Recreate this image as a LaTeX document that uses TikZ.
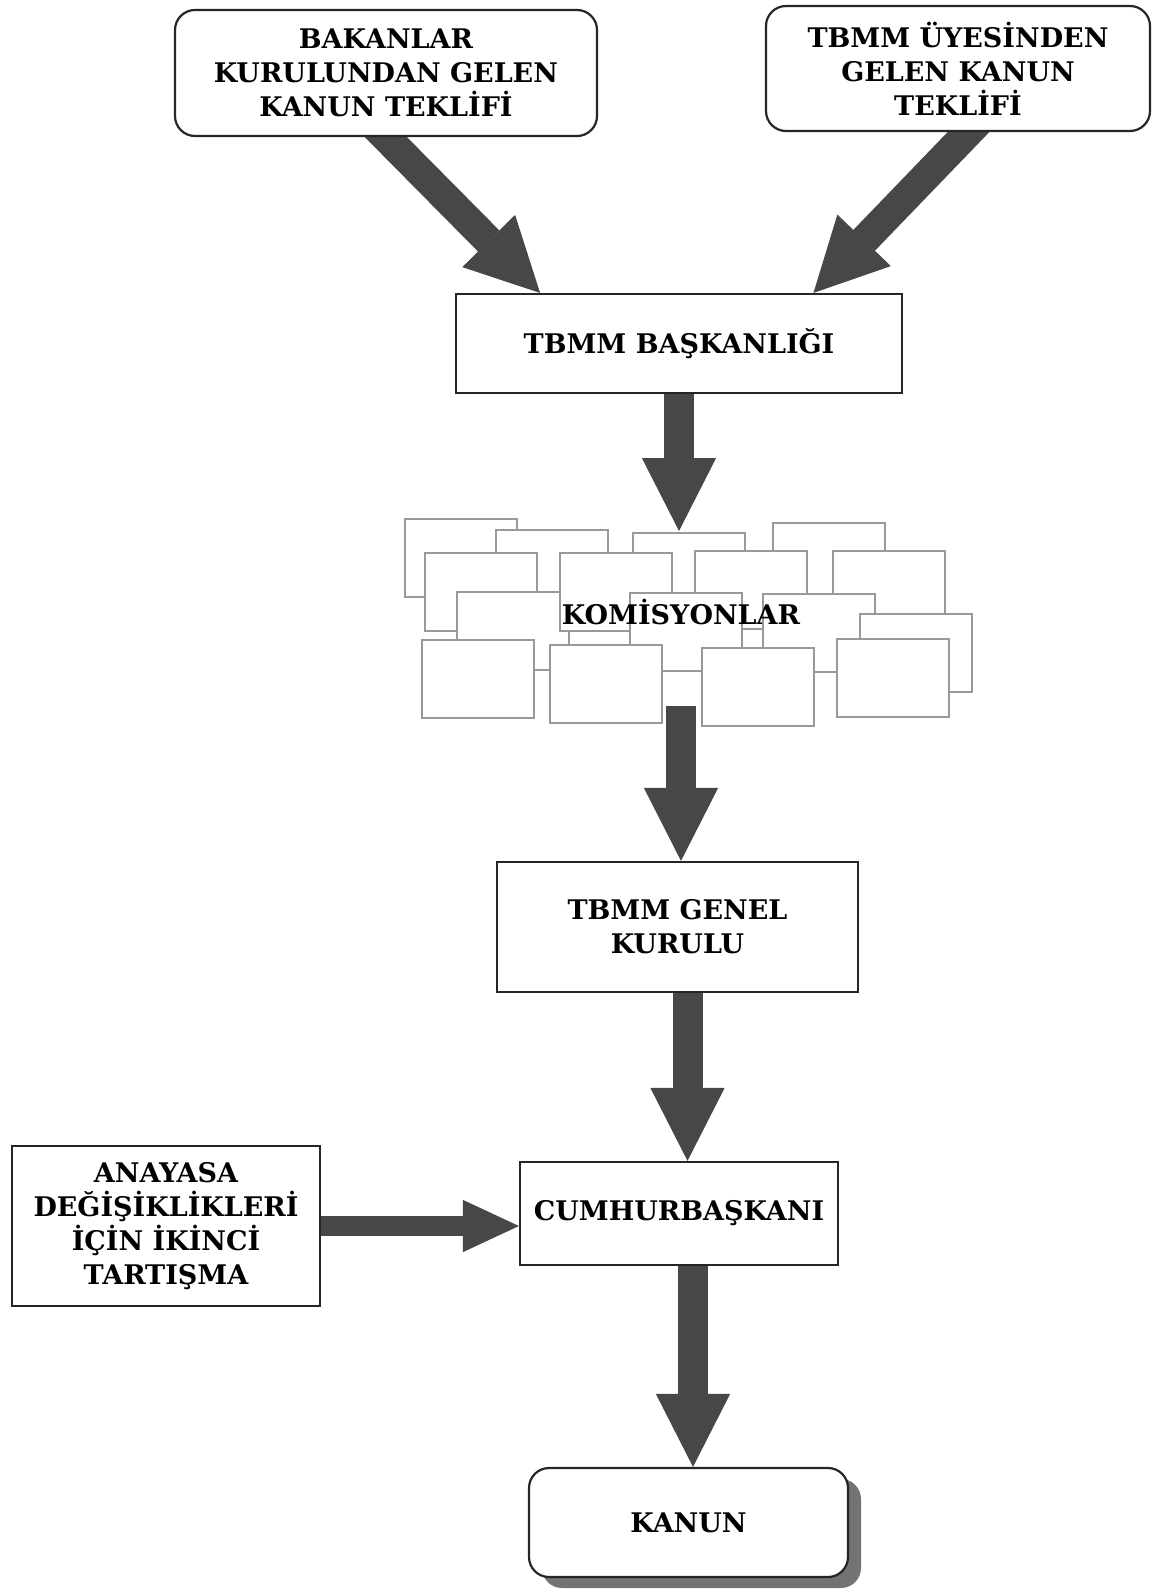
\documentclass[tikz,border=0pt]{standalone}
\usepackage{fontspec}
\setmainfont{DejaVu Serif}
\usetikzlibrary{positioning, arrows.meta, calc, shadows, backgrounds}
\tikzset{
  kutu/.style={rectangle, draw=black!85, line width=2.2pt, fill=white, align=center, inner sep=0pt,
                font=\bfseries\fontsize{27}{34}\selectfont},
  yuvarlak/.style={kutu, rounded corners=20pt},
  kanunkutu/.style={yuvarlak, drop shadow={shadow xshift=13pt, shadow yshift=-11pt, fill=black!55, opacity=1}},
  komisyon/.style={draw=black!40, line width=1.8pt, fill=white},
  yazi/.style={align=center, inner sep=0pt, font=\bfseries\fontsize{27}{34}\selectfont},
  kalinok/.style={line width=30pt, draw=black!72, -{Triangle[length=73pt, width=74pt, line width=1pt]}},
  incok/.style={line width=20pt, draw=black!72, -{Triangle[length=56pt, width=52pt, line width=1pt]}}
}

\begin{document}
\begin{tikzpicture}[x=1pt, y=-1pt, node distance=285pt]
    \useasboundingbox (0,0) rectangle (1153,1590);

    % komisyon kutulari (arkadan one)
    \foreach \kx/\ky in {405/519, 496/530, 633/533, 773/523, 695/551, 833/551, 425/553, 457/592,
                         560/553, 630/593, 763/594, 860/614, 422/640, 550/645, 702/648, 837/639}
        \draw[komisyon] (\kx,\ky) rectangle ++(112,78);

    \node (baskan) [kutu, minimum width=446pt, minimum height=99pt] at (679,343.5) {TBMM BAŞKANLIĞI};
    \node (bakan) [yuvarlak, minimum width=422pt, minimum height=126pt, above of=baskan, xshift=-293pt, yshift=-14.5pt] {BAKANLAR\\KURULUNDAN GELEN\\KANUN TEKLİFİ};
    \node (uye) [yuvarlak, minimum width=384pt, minimum height=125pt, above of=baskan, xshift=279pt, yshift=-10pt] {TBMM ÜYESİNDEN\\GELEN KANUN\\TEKLİFİ};
    \node (komis) [yazi, below of=baskan, xshift=2pt, yshift=16.5pt] {KOMİSYONLAR};
    \node (genel) [kutu, minimum width=361pt, minimum height=130pt, below of=komis, xshift=-3.5pt, yshift=-30pt] {TBMM GENEL\\KURULU};
    \node (cumhur) [kutu, minimum width=318pt, minimum height=103pt, below of=genel, xshift=1.5pt, yshift=-1.5pt] {CUMHURBAŞKANI};
    \node (anayasa) [kutu, minimum width=308pt, minimum height=160pt, left of=cumhur, xshift=-228pt, yshift=-12.5pt] {ANAYASA\\DEĞİŞİKLİKLERİ\\İÇİN İKİNCİ\\TARTIŞMA};
    \node (kanun) [kanunkutu, minimum width=319pt, minimum height=109pt, below of=cumhur, xshift=9.5pt, yshift=-24pt] {KANUN};

    \coordinate (komtop) at (679,531);
    \coordinate (kombot) at (681,706);
    \coordinate (g5) at ([xshift=10pt]genel.center);
    \coordinate (c7) at ([xshift=14pt]cumhur.center);

    \begin{scope}[on background layer]
    \draw [kalinok] ($(bakan.south)+(-12,-12)$) -- ($(baskan.north west)!0.19!(baskan.north east)$);
    \draw [kalinok] ($(uye.south)+(22,-12)$) -- ($(baskan.north west)!0.80!(baskan.north east)$);
    \draw [kalinok] (baskan.center) -- (komtop);
    \draw [kalinok] (kombot) -- (kombot |- genel.north);
    \draw [kalinok] (g5) -- (g5 |- cumhur.north);
    \draw [incok] (anayasa.center) -- (anayasa.center -| cumhur.west);
    \draw [kalinok] (c7) -- (c7 |- kanun.north);
    \end{scope}

\end{tikzpicture}
\end{document}
